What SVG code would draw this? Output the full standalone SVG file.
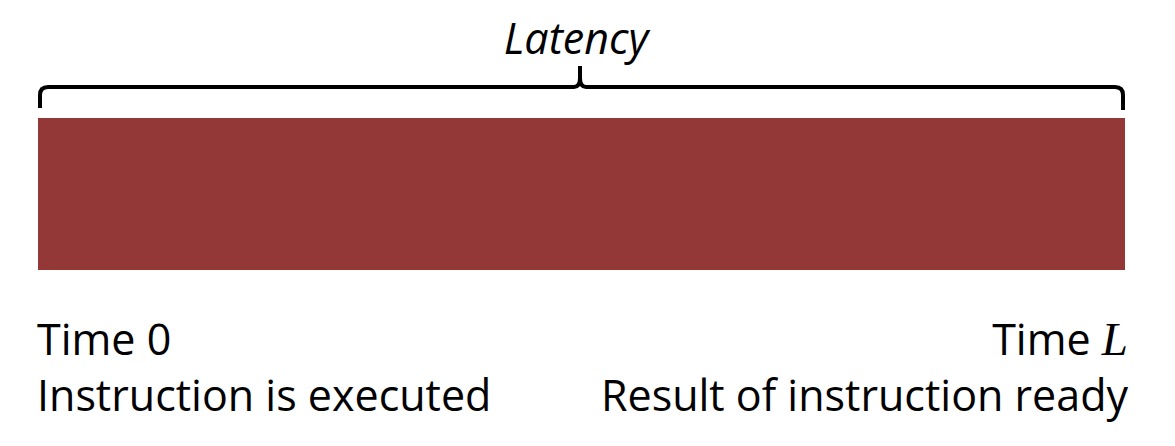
<svg xmlns="http://www.w3.org/2000/svg" width="1175" height="446" viewBox="0 0 1175 446">
<style>
.t{font-family:"Open Sans","Noto Sans",sans-serif;font-size:43px;fill:#000}
.brace{fill:none;stroke:#000;stroke-width:4;stroke-linejoin:round}
</style>
<rect width="1175" height="446" fill="#fff"/>
<g id="bar"><rect x="38" y="118" width="1087" height="152" fill="#933737"/></g>
<g id="connectors">
<path class="brace" d="M40,108 V95 Q40,87 48,87 H574 Q580,87 580,78 V66 M580,66 V78 Q580,87 586,87 H1115 Q1123,87 1123,95 V110"/>
</g>
<g id="latency"><text class="t" x="576" y="54" text-anchor="middle" font-style="italic" font-size="48">Latency</text></g>
<g id="start">
<text class="t" x="37" y="355">Time 0</text>
<text class="t" x="37" y="411">Instruction is executed</text>
</g>
<g id="end">
<text class="t" x="1128" y="355" text-anchor="end">Time <tspan font-family="Liberation Serif,serif" font-style="italic" font-size="47">L</tspan></text>
<text class="t" x="1128" y="411" text-anchor="end">Result of instruction ready</text>
</g>
</svg>
